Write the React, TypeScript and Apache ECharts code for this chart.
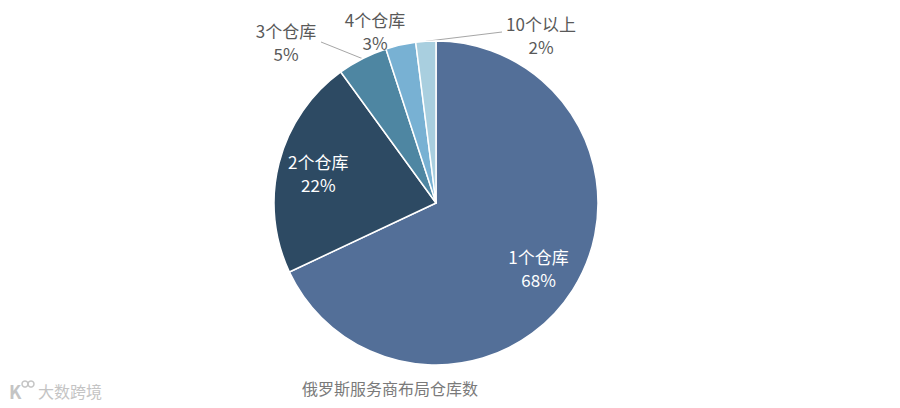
import React, { useEffect, useRef } from "react";
import * as echarts from "echarts";

const categories = ["1个仓库", "2个仓库", "3个仓库", "4个仓库", "10个以上"];
const shares = [68, 22, 5, 3, 2];
const colors = ["#536f98", "#2d4a63", "#4e86a2", "#78b1d3", "#a9cfdf"];
const chartTitle = "俄罗斯服务商布局仓库数";
const brandText = "大数跨境";

export default function App() {
  const ref = useRef<HTMLDivElement>(null);
  useEffect(() => {
    document.body.style.margin = "0";
    const chart = echarts.init(ref.current!, null, { renderer: "svg" });
    const cx = 436,
      cy = 203,
      R = 162;
    const total = shares.reduce((a, b) => a + b, 0);
    const mids: number[] = [];
    let acc = 0;
    shares.forEach((v) => {
      mids.push(((acc + v / 2) / total) * 2 * Math.PI);
      acc += v;
    });
    const pt = (i: number, r: number) => [cx + r * Math.sin(mids[i]), cy - r * Math.cos(mids[i])];
    const outside: Record<number, { x: number; y: number; line?: number[] }> = {
      2: { x: 286, y: 42, line: [321, 42] },
      3: { x: 375, y: 31 },
      4: { x: 541, y: 35, line: [502, 32] },
    };
    const font = "'Noto Sans CJK SC', 'Noto Sans', sans-serif";
    chart.setOption({
      animation: false,
      backgroundColor: "#ffffff",
      graphic: [
        {
          type: "text",
          x: 390,
          y: 388,
          style: {
            text: chartTitle,
            fill: "#7a7a7a",
            fontSize: 16,
            fontFamily: font,
            align: "center",
            verticalAlign: "middle",
          },
        },
        {
          type: "text",
          x: 38,
          y: 391,
          style: {
            text: brandText,
            fill: "#c4c4c4",
            fontSize: 16,
            fontFamily: font,
            align: "left",
            verticalAlign: "middle",
          },
        },
        {
          type: "text",
          x: 9,
          y: 391,
          style: { text: "K", fill: "#c4c4c4", fontSize: 18, fontWeight: "bold", fontFamily: font, verticalAlign: "middle" },
        },
        { type: "circle", shape: { cx: 25, cy: 384, r: 3 }, style: { fill: "none", stroke: "#c4c4c4", lineWidth: 1.5 } },
        { type: "circle", shape: { cx: 31, cy: 384, r: 3 }, style: { fill: "none", stroke: "#c4c4c4", lineWidth: 1.5 } },
      ],
      series: [
        {
          type: "pie",
          center: [cx, cy],
          radius: [0, R],
          startAngle: 90,
          clockwise: true,
          avoidLabelOverlap: false,
          itemStyle: { borderColor: "#ffffff", borderWidth: 1.5 },
          label: {
            formatter: "{b}\n{c}%",
            fontSize: 17,
            lineHeight: 23,
            fontFamily: font,
            align: "center",
          },
          labelLine: { lineStyle: { color: "#a6a6a6", width: 1 }, length: 10, length2: 10 },
          labelLayout: (p: any) => {
            const i = p.dataIndex;
            if (i < 2) {
              const [x, y] = pt(i, R * 0.75);
              return { x, y, align: "center", verticalAlign: "middle" };
            }
            const o = outside[i];
            const res: any = { x: o.x, y: o.y, align: "center", verticalAlign: "middle" };
            if (o.line) {
              const e = pt(i, R);
              res.labelLinePoints = [e, o.line, o.line];
            }
            return res;
          },
          data: categories.map((name, i) => ({
            name,
            value: shares[i],
            itemStyle: { color: colors[i] },
            label:
              i < 2
                ? { position: "inside", color: "#ffffff" }
                : { position: "outside", color: "#595959" },
            labelLine: { show: i === 2 || i === 4 },
          })),
        },
      ],
    });
    return () => chart.dispose();
  }, []);
  return <div ref={ref} style={{ width: 900, height: 408 }} />;
}
